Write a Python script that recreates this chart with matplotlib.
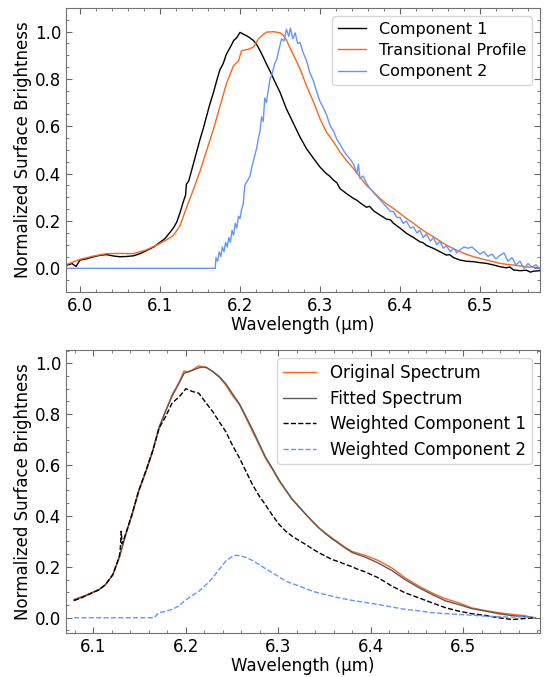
import matplotlib
matplotlib.use("Agg")
import matplotlib.pyplot as plt
from matplotlib.ticker import AutoMinorLocator

# ---------------- Top panel data ----------------
comp1_wl = [5.9825, 5.99, 5.995, 6.0, 6.008, 6.017, 6.025, 6.033, 6.042, 6.05, 6.058, 6.067, 6.075,
            6.083, 6.092, 6.1, 6.106, 6.1125, 6.117, 6.121, 6.125, 6.129, 6.132, 6.133, 6.136,
            6.142, 6.146, 6.15, 6.154, 6.158, 6.162, 6.167, 6.171, 6.175, 6.179, 6.183, 6.188,
            6.192, 6.196, 6.2, 6.204, 6.208, 6.212, 6.217, 6.221, 6.225, 6.229, 6.233, 6.238,
            6.242, 6.246, 6.25, 6.258, 6.267, 6.275, 6.283, 6.292, 6.3, 6.308, 6.312, 6.317,
            6.321, 6.325, 6.333, 6.342, 6.346, 6.35, 6.358, 6.362, 6.367, 6.375, 6.383, 6.388,
            6.392, 6.4, 6.408, 6.417, 6.425, 6.429, 6.433, 6.442, 6.45, 6.458, 6.462, 6.467,
            6.475, 6.483, 6.492, 6.5, 6.508, 6.517, 6.525, 6.533, 6.537, 6.542, 6.55, 6.558,
            6.563, 6.567, 6.575]
comp1_val = [0.012, 0.02, 0.008, 0.035, 0.04, 0.049, 0.055, 0.058, 0.052, 0.049, 0.05, 0.053, 0.062,
             0.075, 0.09, 0.11, 0.125, 0.152, 0.172, 0.196, 0.235, 0.28, 0.31, 0.355, 0.37,
             0.445, 0.495, 0.545, 0.59, 0.64, 0.69, 0.745, 0.795, 0.84, 0.865, 0.905, 0.935,
             0.962, 0.975, 0.997, 0.99, 0.983, 0.975, 0.962, 0.945, 0.92, 0.893, 0.864, 0.83,
             0.80, 0.772, 0.744, 0.674, 0.611, 0.555, 0.506, 0.464, 0.428, 0.40, 0.39, 0.372,
             0.362, 0.337, 0.316, 0.295, 0.288, 0.277, 0.258, 0.262, 0.243, 0.225, 0.208, 0.205,
             0.19, 0.17, 0.148, 0.13, 0.112, 0.108, 0.097, 0.084, 0.07, 0.056, 0.058, 0.045,
             0.035, 0.03, 0.028, 0.024, 0.021, 0.014, 0.007, 0.002, 0.006, -0.007, -0.01, -0.008,
             -0.016, -0.012, -0.01]

trans_wl = [5.9825, 6.0, 6.017, 6.033, 6.05, 6.067, 6.083, 6.1, 6.108, 6.117, 6.125, 6.133,
            6.142, 6.15, 6.158, 6.167, 6.175, 6.183, 6.192, 6.198, 6.202, 6.21, 6.217, 6.223,
            6.228, 6.233, 6.242, 6.25, 6.254, 6.258, 6.262, 6.267, 6.275, 6.283, 6.292, 6.3,
            6.308, 6.317, 6.325, 6.333, 6.342, 6.35, 6.358, 6.367, 6.375, 6.383, 6.392, 6.4,
            6.408, 6.417, 6.425, 6.433, 6.442, 6.45, 6.458, 6.467, 6.475, 6.483, 6.492, 6.5,
            6.508, 6.517, 6.525, 6.533, 6.542, 6.55, 6.558, 6.567, 6.575]
trans_val = [0.015, 0.038, 0.052, 0.062, 0.063, 0.062, 0.078, 0.105, 0.12, 0.14, 0.18, 0.255,
             0.335, 0.41, 0.495, 0.59, 0.685, 0.78, 0.857, 0.875, 0.92, 0.925, 0.935, 0.969,
             0.985, 0.998, 1.0, 0.995, 0.985, 0.965, 0.935, 0.9, 0.843, 0.772, 0.702, 0.632,
             0.576, 0.534, 0.491, 0.456, 0.421, 0.385, 0.351, 0.322, 0.295, 0.273, 0.253, 0.232,
             0.211, 0.19, 0.169, 0.151, 0.133, 0.115, 0.098, 0.083, 0.07, 0.059, 0.049, 0.042,
             0.035, 0.028, 0.021, 0.017, 0.014, 0.01, 0.006, 0.004, 0.003]

comp2_wl = [5.9825, 6.169, 6.170, 6.172, 6.174, 6.176, 6.178, 6.180, 6.182, 6.184, 6.186, 6.188,
            6.190, 6.192, 6.194, 6.196, 6.198, 6.200, 6.202, 6.204, 6.206, 6.2125, 6.215, 6.218,
            6.221, 6.223, 6.225, 6.227, 6.229, 6.231, 6.233, 6.2375, 6.240, 6.243, 6.246, 6.249,
            6.252, 6.255, 6.258, 6.261, 6.263, 6.266, 6.269, 6.272, 6.275, 6.279, 6.283, 6.287,
            6.292, 6.296, 6.3, 6.304, 6.308, 6.313, 6.317, 6.321, 6.325, 6.329, 6.333, 6.338,
            6.342, 6.346, 6.348, 6.35, 6.354, 6.358, 6.362, 6.367, 6.371, 6.375, 6.379, 6.383,
            6.388, 6.392, 6.396, 6.4, 6.404, 6.408, 6.413, 6.417, 6.421, 6.425, 6.429, 6.433,
            6.438, 6.442, 6.446, 6.45, 6.454, 6.458, 6.463, 6.467, 6.471, 6.475, 6.48, 6.485,
            6.49, 6.495, 6.5, 6.505, 6.51, 6.515, 6.52, 6.525, 6.53, 6.535, 6.54, 6.545, 6.55,
            6.555, 6.56, 6.565, 6.57, 6.575]
comp2_val = [0.0, 0.0, 0.045, 0.03, 0.07, 0.05, 0.09, 0.07, 0.11, 0.09, 0.13, 0.11,
             0.16, 0.14, 0.19, 0.17, 0.22, 0.21, 0.25, 0.27, 0.35, 0.39, 0.43, 0.47,
             0.51, 0.55, 0.58, 0.64, 0.62, 0.72, 0.70, 0.80, 0.82, 0.86, 0.885, 0.93,
             0.97, 0.96, 1.01, 0.98, 1.015, 0.97, 0.995, 0.95, 0.955, 0.91, 0.88, 0.83,
             0.79, 0.745, 0.705, 0.68, 0.65, 0.6, 0.58, 0.545, 0.525, 0.5, 0.48, 0.46,
             0.44, 0.4, 0.44, 0.38, 0.39, 0.36, 0.34, 0.32, 0.305, 0.29, 0.275, 0.26,
             0.24, 0.24, 0.215, 0.215, 0.19, 0.2, 0.17, 0.175, 0.15, 0.16, 0.13, 0.145,
             0.115, 0.13, 0.1, 0.115, 0.085, 0.095, 0.07, 0.085, 0.065, 0.078, 0.09, 0.085,
             0.09, 0.075, 0.06, 0.07, 0.05, 0.06, 0.04, 0.055, 0.065, 0.03, 0.045, 0.015, 0.03,
             0.0, 0.02, 0.005, 0.015, -0.005]

# ---------------- Bottom panel data ----------------
orig_wl = [6.079, 6.085, 6.092, 6.099, 6.106, 6.113, 6.121, 6.128, 6.135, 6.142, 6.149, 6.157,
           6.164, 6.171, 6.178, 6.185, 6.193, 6.198, 6.203, 6.207, 6.214, 6.218, 6.222, 6.229,
           6.236, 6.243, 6.25, 6.258, 6.265, 6.272, 6.279, 6.286, 6.294, 6.301, 6.308, 6.315,
           6.323, 6.33, 6.337, 6.344, 6.351, 6.358, 6.366, 6.373, 6.38, 6.394, 6.408, 6.423,
           6.437, 6.452, 6.466, 6.481, 6.495, 6.509, 6.524, 6.538, 6.553, 6.567, 6.578]
orig_val = [0.072, 0.08, 0.089, 0.1, 0.111, 0.13, 0.17, 0.235, 0.327, 0.405, 0.496, 0.575,
            0.653, 0.751, 0.81, 0.876, 0.928, 0.97, 0.965, 0.974, 0.99, 0.985, 0.985, 0.967,
            0.945, 0.915, 0.875, 0.836, 0.785, 0.732, 0.68, 0.627, 0.58, 0.536, 0.5, 0.464,
            0.432, 0.405, 0.378, 0.353, 0.333, 0.314, 0.293, 0.275, 0.26, 0.245, 0.225, 0.195,
            0.157, 0.124, 0.098, 0.074, 0.059, 0.039, 0.028, 0.02, 0.013, 0.008, -0.002]

fit_wl = orig_wl
fit_val = [0.068, 0.077, 0.087, 0.099, 0.11, 0.13, 0.168, 0.24, 0.33, 0.41, 0.5, 0.58,
           0.655, 0.745, 0.812, 0.87, 0.925, 0.96, 0.968, 0.972, 0.982, 0.985, 0.983, 0.968,
           0.948, 0.92, 0.882, 0.84, 0.79, 0.74, 0.686, 0.632, 0.584, 0.54, 0.502, 0.466,
           0.434, 0.405, 0.378, 0.352, 0.33, 0.31, 0.29, 0.272, 0.256, 0.238, 0.215, 0.185,
           0.15, 0.118, 0.092, 0.066, 0.052, 0.036, 0.026, 0.016, 0.008, 0.004, 0.0]

w1_wl = [6.079, 6.085, 6.092, 6.099, 6.106, 6.113, 6.121, 6.128, 6.129, 6.130, 6.131, 6.135,
         6.142, 6.149, 6.157, 6.164, 6.171, 6.178, 6.185, 6.193, 6.2, 6.207, 6.214, 6.222,
         6.229, 6.236, 6.243, 6.25, 6.258, 6.265, 6.272, 6.279, 6.286, 6.294, 6.301, 6.308,
         6.315, 6.323, 6.33, 6.337, 6.344, 6.351, 6.358, 6.366, 6.373, 6.38, 6.386, 6.394,
         6.408, 6.423, 6.437, 6.452, 6.466, 6.481, 6.495, 6.509, 6.524, 6.538, 6.553, 6.567, 6.578]
w1_val = [0.068, 0.075, 0.087, 0.098, 0.11, 0.13, 0.17, 0.24, 0.27, 0.34, 0.29, 0.33,
          0.41, 0.5, 0.58, 0.655, 0.745, 0.79, 0.843, 0.869, 0.9, 0.889, 0.882, 0.843,
          0.81, 0.77, 0.732, 0.68, 0.627, 0.575, 0.523, 0.48, 0.444, 0.4, 0.366, 0.34,
          0.32, 0.302, 0.287, 0.27, 0.255, 0.242, 0.229, 0.219, 0.209, 0.2, 0.19, 0.18,
          0.157, 0.124, 0.098, 0.078, 0.059, 0.039, 0.026, 0.016, 0.009, 0.0, -0.007, -0.003, 0.0]

w2_wl = [6.079, 6.166, 6.168, 6.171, 6.178, 6.185, 6.192, 6.198, 6.206, 6.214, 6.222, 6.229,
         6.236, 6.243, 6.249, 6.254, 6.26, 6.265, 6.272, 6.279, 6.286, 6.294, 6.301, 6.308,
         6.315, 6.323, 6.33, 6.337, 6.344, 6.351, 6.358, 6.366, 6.373, 6.38, 6.394, 6.408,
         6.423, 6.437, 6.452, 6.466, 6.481, 6.495, 6.509, 6.524, 6.538, 6.553, 6.567, 6.578]
w2_val = [0.0, 0.0, 0.01, 0.02, 0.025, 0.033, 0.045, 0.065, 0.085, 0.104, 0.13, 0.157,
          0.19, 0.222, 0.238, 0.246, 0.242, 0.237, 0.225, 0.209, 0.193, 0.176, 0.16, 0.144,
          0.134, 0.124, 0.114, 0.104, 0.097, 0.091, 0.085, 0.078, 0.073, 0.068, 0.06, 0.052,
          0.042, 0.033, 0.027, 0.02, 0.016, 0.013, 0.01, 0.006, 0.004, 0.002, 0.004, 0.0]

ORANGE = "#ff6418"
BLUE = "#6495ff"
GRAY = "#5a5a5a"
FS = 12

fig = plt.figure(figsize=(5.46, 6.77), dpi=100)
ax1 = fig.add_axes([66 / 546, 1 - 292 / 677, 474 / 546, 284 / 677])
ax2 = fig.add_axes([66 / 546, 1 - 633 / 677, 474 / 546, 283 / 677])

ax1.plot(comp1_wl, comp1_val, color="black", lw=1.0, label="Component 1")
ax1.plot(trans_wl, trans_val, color=ORANGE, lw=1.0, label="Transitional Profile")
ax1.plot(comp2_wl, comp2_val, color=BLUE, lw=1.0, label="Component 2")
ax1.set_xlim(5.9825, 6.575)
ax1.set_ylim(-0.1, 1.1)

ax2.plot(orig_wl, orig_val, color=ORANGE, lw=1.0, label="Original Spectrum")
ax2.plot(fit_wl, fit_val, color=GRAY, lw=1.0, label="Fitted Spectrum")
ax2.plot(w1_wl, w1_val, color="black", lw=1.0, ls="--", label="Weighted Component 1")
ax2.plot(w2_wl, w2_val, color=BLUE, lw=1.0, ls="--", label="Weighted Component 2")
ax2.set_xlim(6.0703, 6.583)
ax2.set_ylim(-0.06, 1.052)

for ax in (ax1, ax2):
    ax.set_xlabel("Wavelength (µm)", fontsize=FS, labelpad=1)
    ax.set_ylabel("Normalized Surface Brightness", fontsize=FS, labelpad=2)
    ax.xaxis.set_minor_locator(AutoMinorLocator())
    ax.yaxis.set_minor_locator(AutoMinorLocator())
    ax.tick_params(which="both", direction="in", top=True, right=True,
                   labelsize=FS, color="0.4")
    ax.tick_params(which="major", length=4)
    ax.tick_params(which="minor", length=2.5)
    for s in ax.spines.values():
        s.set_color("0.45")

ax1.legend(loc="upper right", fontsize=11.5, handlelength=1.8, borderpad=0.35,
           labelspacing=0.4)
ax2.legend(loc="upper right", fontsize=FS, handlelength=2.0, borderpad=0.35,
           labelspacing=0.45)

fig.savefig("out.png", dpi=100)
